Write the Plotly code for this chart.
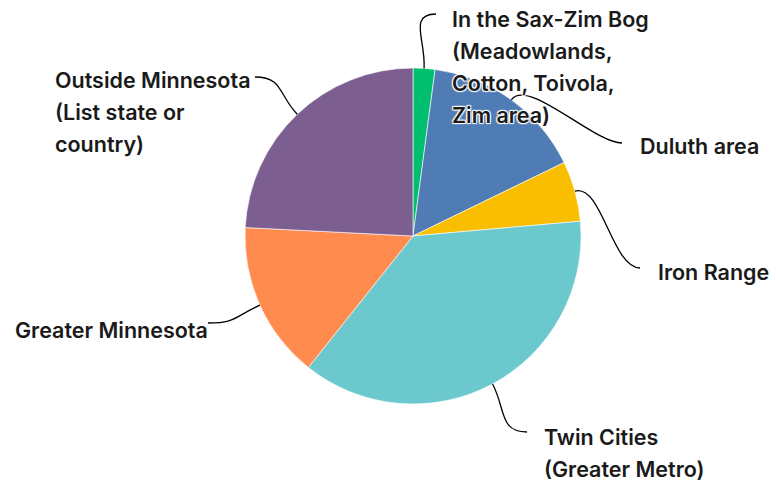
import math
import plotly.graph_objects as go

# ---- data ----
categories = [
    "In the Sax-Zim Bog (Meadowlands, Cotton, Toivola, Zim area)",
    "Duluth area",
    "Iron Range",
    "Twin Cities (Greater Metro)",
    "Greater Minnesota",
    "Outside Minnesota (List state or country)",
]
values = [2.1, 15.7, 5.8, 37.1, 15.1, 24.2]
colors = ["#00BF6F", "#507CB6", "#F9BE00", "#6BC8CD", "#FF8B4F", "#7D5E90"]

# label text lines
label_lines = [
    ["In the Sax-Zim Bog", "(Meadowlands,", "Cotton, Toivola,", "Zim area)"],
    ["Duluth area"],
    ["Iron Range"],
    ["Twin Cities", "(Greater Metro)"],
    ["Greater Minnesota"],
    ["Outside Minnesota", "(List state or", "country)"],
]

# ---- layout (pixels) ----
W, H = 776, 482
CX, CY, R = 413, 236, 168
# label anchor: (line end x, line end y, text x, first-line y, side)
label_pos = [
    (436, 14, 450, 19, "left"),
    (622, 143, 638, 146, "left"),
    (640, 268, 656, 272, "left"),
    (527, 432, 542, 437, "left"),
    (208, 323, 210, 330, "right"),
    (255, 77, 53, 80, "leftml"),
]
LINE_GAP = 32

def px(x):
    return x / W

def py(y):
    return 1 - y / H

fig = go.Figure(go.Pie(
    labels=categories,
    values=values,
    marker=dict(colors=colors, line=dict(color="white", width=0.6)),
    sort=False,
    direction="clockwise",
    rotation=0,
    textinfo="none",
    hoverinfo="skip",
    showlegend=False,
    domain=dict(x=[(CX - R) / W, (CX + R) / W], y=[1 - (CY + R) / H, 1 - (CY - R) / H]),
))

total = sum(values)
shapes = []
annotations = []
font = dict(family="Inter, Roboto, sans-serif", size=21.5, color="#1a1a1a", weight=600,
            shadow="white 1px 1px 1px, white -1px -1px 1px, white 1px -1px 1px, white -1px 1px 1px")
cum = 0
for i, v in enumerate(values):
    mid = (cum + v / 2) / total * 2 * math.pi
    cum += v
    sx = CX + R * math.sin(mid)
    sy = CY - R * math.cos(mid)
    ex, ey, tx, ty, side = label_pos[i]
    d = 28
    c1x = sx + d * math.sin(mid)
    c1y = sy - d * math.cos(mid)
    dirx = 1 if ex > sx else -1
    c2x = ex - dirx * d
    c2y = ey
    path = "M {},{} C {},{} {},{} {},{}".format(
        px(sx), py(sy), px(c1x), py(c1y), px(c2x), py(c2y), px(ex), py(ey))
    shapes.append(dict(type="path", path=path, xref="paper", yref="paper",
                       line=dict(color="black", width=1.3), layer="above"))
    for j, line in enumerate(label_lines[i]):
        xa = "right" if side == "right" else "left"
        annotations.append(dict(
            text=line, x=px(tx), y=py(ty + j * LINE_GAP), xref="paper", yref="paper",
            xanchor=xa, yanchor="middle", showarrow=False, font=font))

fig.update_layout(
    width=W, height=H,
    margin=dict(l=0, r=0, t=0, b=0),
    paper_bgcolor="white", plot_bgcolor="white",
    shapes=shapes, annotations=annotations,
)
fig.write_html("out.html", config={"displayModeBar": False},
               post_script="document.body.style.margin='0';document.body.style.overflow='hidden';")
